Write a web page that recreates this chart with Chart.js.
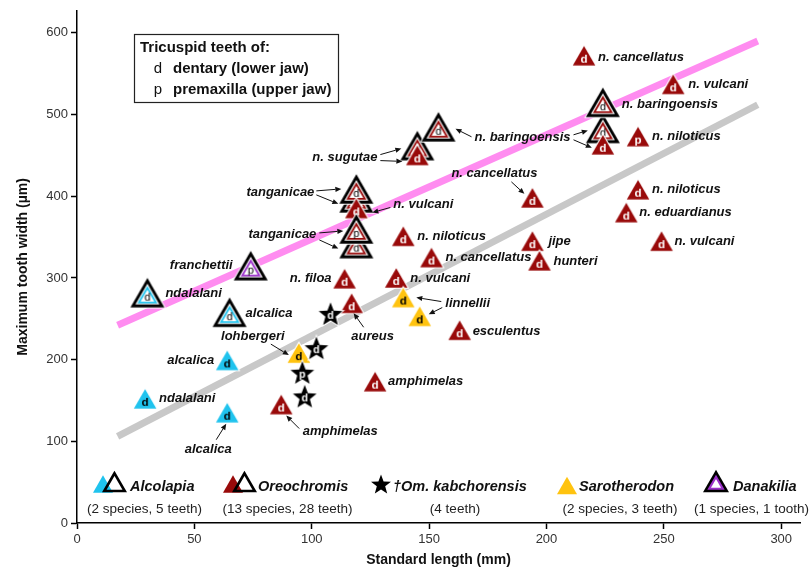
<!DOCTYPE html>
<html>
<head>
<meta charset="utf-8">
<script src="https://cdn.jsdelivr.net/npm/chart.js@4.4.1/dist/chart.umd.min.js"></script>
<style>
  html, body { margin: 0; padding: 0; background: #fff; }
  #wrap { width: 810px; height: 575px; }
</style>
</head>
<body>
<div id="wrap"><canvas id="c" width="810" height="575"></canvas></div>
<script>
// ---- Data: standard length (mm), maximum tooth width (µm), jaw (d = dentary, p = premaxilla)
const alcolapiaSL      = [30, 65, 64, 29, 64];
const alcolapiaWidth   = [282, 258, 199, 152, 135];
const alcolapiaJaw     = ['d', 'd', 'd', 'd', 'd'];
const alcolapiaFramed  = [true, true, false, false, false];
const alcolapiaSpecies = ['ndalalani', 'alcalica', 'alcalica', 'ndalalani', 'alcalica'];

const oreochromisSL = [216, 254, 224, 224, 224, 239, 194, 239, 234, 249, 194, 197, 139, 151,
                       136, 114, 117, 163, 127, 87, 145, 145, 154, 119, 119, 119, 119, 119];
const oreochromisWidth = [572, 537, 483, 515, 463, 473, 398, 408, 380, 345, 345, 321, 351, 325,
                          300, 299, 269, 236, 173, 145, 462, 450, 485, 398, 409, 385, 342, 360];
const oreochromisJaw = ['d', 'd', 'd', 'd', 'd', 'p', 'd', 'd', 'd', 'd', 'd', 'd', 'd', 'd',
                        'd', 'd', 'd', 'd', 'd', 'd', 'd', 'd', 'd', 'p', 'd', 'd', 'd', 'p'];
const oreochromisFramed = [false, false, true, true, false, false, false, false, false, false, false, false, false, false,
                           false, false, false, false, false, false, true, false, true, true, true, false, true, true];
const oreochromisSpecies = ['n. cancellatus', 'n. vulcani', 'n. baringoensis', 'n. baringoensis', 'n. baringoensis',
                            'n. niloticus', 'n. cancellatus', 'n. niloticus', 'n. eduardianus', 'n. vulcani', 'jipe',
                            'hunteri', 'n. niloticus', 'n. cancellatus', 'n. vulcani', 'n. filoa', 'aureus', 'esculentus',
                            'amphimelas', 'amphimelas', 'n. sugutae', 'n. sugutae', 'n. baringoensis', 'tanganicae',
                            'tanganicae', 'n. vulcani', 'tanganicae', 'tanganicae'];

const kabchorensisSL    = [108, 102, 96, 97];
const kabchorensisWidth = [256, 214, 184, 155];
const kabchorensisJaw   = ['d', 'd', 'p', 'd'];

const sarotherodonSL      = [94.5, 139, 146];
const sarotherodonWidth   = [208, 276, 253];
const sarotherodonJaw     = ['d', 'd', 'd'];
const sarotherodonSpecies = ['lohbergeri', 'linnellii', 'linnellii'];

const danakiliaSL      = [74];
const danakiliaWidth   = [315];
const danakiliaJaw     = ['p'];
const danakiliaSpecies = ['franchettii'];

// trend lines (start and end)
const upperLineSL    = [17.3, 290];
const upperLineWidth = [242, 590];
const lowerLineSL    = [17.3, 290];
const lowerLineWidth = [106, 512];

const xTicks = [0, 50, 100, 150, 200, 250, 300];
const yTicks = [0, 100, 200, 300, 400, 500, 600];

// ---- Styling
const FONT = '"Liberation Sans", Arial, Helvetica, sans-serif';
const CYAN = '#1fc3ee', RED = '#990a0a', YELLOW = '#ffc30f', PURPLE = '#9b30c9';
const PINK = '#ff8cf0', GREY = '#c8c8c8';

function triPath(g, cx, cy, rin) { // equilateral triangle by centroid and inradius
  const R = 2 * rin, h = Math.sqrt(3) * rin;
  g.beginPath();
  g.moveTo(cx, cy - R);
  g.lineTo(cx - h, cy + rin);
  g.lineTo(cx + h, cy + rin);
  g.closePath();
}

function drawFramed(g, cx, cy, rin, color, halo) {
  const layers = [[rin, '#000'], [rin - 2.9, '#fff'], [rin - 4.0, color], [rin - 5.8, '#fff']];
  if (halo) layers.unshift([rin + 1, '#fff']);
  layers.forEach(([r, col]) => { triPath(g, cx, cy, r); g.fillStyle = col; g.fill(); });
}

function makeTriangle(color, letter, letterColor, framed) {
  const c = document.createElement('canvas');
  const W = framed ? 42 : 30, H = framed ? 38 : 28;
  c.width = W; c.height = H;
  const g = c.getContext('2d');
  const rin = (framed ? 34 : 22.5) / (2 * Math.sqrt(3));
  const cx = W / 2, cy = H / 2 + rin / 2;
  if (framed) {
    drawFramed(g, cx, cy, rin, color, true);
    g.fillStyle = '#000';
    g.font = '11px ' + FONT;
  } else {
    triPath(g, cx, cy, rin + 1.1); g.fillStyle = '#fff'; g.fill();
    triPath(g, cx, cy, rin); g.fillStyle = color; g.fill();
    g.fillStyle = letterColor;
    g.font = 'bold 11.5px ' + FONT;
  }
  g.textAlign = 'center';
  g.textBaseline = 'middle';
  g.fillText(letter, cx, cy + 0.5);
  return c;
}

function starPath(g, cx, cy, R, r) {
  g.beginPath();
  for (let k = 0; k < 10; k++) {
    const a = -Math.PI / 2 + k * Math.PI / 5, rr = k % 2 ? r : R;
    g.lineTo(cx + rr * Math.cos(a), cy + rr * Math.sin(a));
  }
  g.closePath();
}

function makeStar(letter) {
  const c = document.createElement('canvas');
  c.width = 30; c.height = 30;
  const g = c.getContext('2d');
  starPath(g, 15, 16, 12.5, 5.4);
  g.lineWidth = 2; g.strokeStyle = '#fff'; g.stroke();
  g.fillStyle = '#000'; g.fill();
  g.fillStyle = '#fff'; g.font = 'bold 10.5px ' + FONT;
  g.textAlign = 'center'; g.textBaseline = 'middle';
  g.fillText(letter, 15, 17);
  return c;
}

const G = {
  A: { sl: alcolapiaSL, w: alcolapiaWidth, jaw: alcolapiaJaw, framed: alcolapiaFramed, species: alcolapiaSpecies, color: CYAN, ink: '#000' },
  O: { sl: oreochromisSL, w: oreochromisWidth, jaw: oreochromisJaw, framed: oreochromisFramed, species: oreochromisSpecies, color: RED, ink: '#fff' },
  K: { sl: kabchorensisSL, w: kabchorensisWidth, jaw: kabchorensisJaw, star: true },
  S: { sl: sarotherodonSL, w: sarotherodonWidth, jaw: sarotherodonJaw, species: sarotherodonSpecies, color: YELLOW, ink: '#000' },
  D: { sl: danakiliaSL, w: danakiliaWidth, jaw: danakiliaJaw, framed: [true], species: danakiliaSpecies, color: PURPLE, ink: '#fff' }
};

function markersFor(grp) {
  return grp.jaw.map((j, i) => grp.star ? makeStar(j)
    : makeTriangle(grp.color, j, grp.ink, grp.framed ? grp.framed[i] : false));
}

const pts = (xs, ys) => xs.map((v, i) => ({ x: v, y: ys[i] }));

const datasets = [];
[['K', 0], ['S', 1], ['A', 2], ['D', 3], ['O', 4]].forEach(([k, ord]) => {
  const grp = G[k];
  const icons = markersFor(grp);
  datasets.push({
    label: k,
    data: pts(grp.sl, grp.w),
    pointStyle: ctx => icons[ctx.dataIndex],
    pointRadius: 10,
    pointBorderWidth: 0,
    order: ord
  });
});
datasets.push({
  type: 'line', data: pts(upperLineSL, upperLineWidth), showLine: true,
  borderColor: PINK, borderWidth: 7, pointRadius: 0, borderCapStyle: 'butt', order: 20
});
datasets.push({
  type: 'line', data: pts(lowerLineSL, lowerLineWidth), showLine: true,
  borderColor: GREY, borderWidth: 7, pointRadius: 0, borderCapStyle: 'butt', order: 21
});

// ---- Species labels: offsets (px) from the anchor point, optional arrows to points
const callouts = [
  { g: 'O', i: 0, dx: 14, dy: 2, align: 'left' },
  { g: 'O', i: 1, dx: 15, dy: 0, align: 'left' },
  { g: 'O', i: 3, dx: 19, dy: 2, align: 'left' },
  { g: 'O', i: 22, dx: 84, dy: 11, align: 'center', arrows: [
      { fx: 33, fy: 10, g: 'O', i: 22, tx: 17, ty: 2 },
      { fx: 135, fy: 8, g: 'O', i: 2, tx: -15, ty: 2 },
      { fx: 135, fy: 13, g: 'O', i: 4, tx: -11, ty: 3 }] },
  { g: 'O', i: 5, dx: 14, dy: 0, align: 'left' },
  { g: 'O', i: 6, dx: -38, dy: -24, align: 'center', arrows: [{ fx: -21, fy: -16, g: 'O', i: 6, tx: -8, ty: -4 }] },
  { g: 'O', i: 7, dx: 14, dy: 0, align: 'left' },
  { g: 'O', i: 8, dx: 13, dy: 0, align: 'left' },
  { g: 'O', i: 9, dx: 13, dy: 0, align: 'left' },
  { g: 'O', i: 10, dx: 16, dy: 0, align: 'left' },
  { g: 'O', i: 11, dx: 14, dy: 1, align: 'left' },
  { g: 'O', i: 12, dx: 14, dy: 0, align: 'left' },
  { g: 'O', i: 13, dx: 14, dy: 0, align: 'left' },
  { g: 'O', i: 14, dx: 14, dy: 0, align: 'left' },
  { g: 'O', i: 15, dx: -13, dy: 0, align: 'right' },
  { g: 'O', i: 16, dx: 21, dy: 33, align: 'center', arrows: [{ fx: 12, fy: 24, g: 'O', i: 16, tx: 2, ty: 10 }] },
  { g: 'O', i: 17, dx: 13, dy: 1, align: 'left' },
  { g: 'O', i: 18, dx: 13, dy: 0, align: 'left' },
  { g: 'O', i: 19, dx: 59, dy: 27, align: 'center', arrows: [{ fx: 18, fy: 24, g: 'O', i: 19, tx: 5, ty: 11 }] },
  { g: 'O', i: 20, dx: -40, dy: 12, align: 'right', arrows: [
      { fx: -37, fy: 9, g: 'O', i: 20, tx: -16, ty: 3 },
      { fx: -37, fy: 15, g: 'O', i: 21, tx: -15, ty: 6 }] },
  { g: 'O', i: 24, dx: -42, dy: 4, align: 'right', arrows: [
      { fx: -40, fy: 2, g: 'O', i: 24, tx: -15, ty: 0 },
      { fx: -40, fy: 6, g: 'O', i: 23, tx: -18, ty: 6 }] },
  { g: 'O', i: 25, dx: 37, dy: -4, align: 'left', arrows: [{ fx: 34, fy: -1, g: 'O', i: 25, tx: 16, ty: 4 }] },
  { g: 'O', i: 27, dx: -40, dy: 6, align: 'right', arrows: [
      { fx: -37, fy: 4, g: 'O', i: 27, tx: -13, ty: 2 },
      { fx: -37, fy: 11, g: 'O', i: 26, tx: -18, ty: 5 }] },
  { g: 'A', i: 0, dx: 18, dy: 1, align: 'left' },
  { g: 'A', i: 1, dx: 16, dy: 1, align: 'left' },
  { g: 'A', i: 2, dx: -13, dy: 0, align: 'right' },
  { g: 'A', i: 3, dx: 14, dy: 0, align: 'left' },
  { g: 'A', i: 4, dx: -19, dy: 37, align: 'center', arrows: [{ fx: -11, fy: 27, g: 'A', i: 4, tx: -1, ty: 11 }] },
  { g: 'D', i: 0, dx: -18, dy: 0, align: 'right' },
  { g: 'S', i: 0, dx: -46, dy: -17, align: 'center', arrows: [{ fx: -28, fy: -9, g: 'S', i: 0, tx: -10, ty: 2 }] },
  { g: 'S', i: 1, dx: 42, dy: 6, align: 'left', arrows: [
      { fx: 38, fy: 4, g: 'S', i: 1, tx: 13, ty: 0 },
      { fx: 39, fy: 10, g: 'S', i: 2, tx: 9, ty: -2 }] }
];

// genus key entries along the bottom
const genusKey = [
  { name: 'Alcolapia', note: '(2 species, 5 teeth)', color: CYAN, icon: 'pair' },
  { name: 'Oreochromis', note: '(13 species, 28 teeth)', color: RED, icon: 'pair' },
  { name: '\u2020Om. kabchorensis', note: '(4 teeth)', icon: 'star' },
  { name: 'Sarotherodon', note: '(2 species, 3 teeth)', color: YELLOW, icon: 'solid' },
  { name: 'Danakilia', note: '(1 species, 1 tooth)', color: PURPLE, icon: 'framed' }
];
const keyIconX = [103, 233, 381, 567, 716];
const keyTextX = [130, 258, 393, 579, 733];
const keyNoteX = [144.5, 287.5, 455, 620, 751.5];

function drawArrow(g, x1, y1, x2, y2) {
  const a = Math.atan2(y2 - y1, x2 - x1), L = 6, W = 2.6;
  const bx = x2 - L * Math.cos(a), by = y2 - L * Math.sin(a);
  g.beginPath(); g.moveTo(x1, y1); g.lineTo(bx, by);
  g.lineWidth = 1; g.strokeStyle = '#111'; g.stroke();
  g.beginPath(); g.moveTo(x2, y2);
  g.lineTo(bx - W * Math.sin(a), by + W * Math.cos(a));
  g.lineTo(bx + W * Math.sin(a), by - W * Math.cos(a));
  g.closePath(); g.fillStyle = '#111'; g.fill();
}

function solidTri(g, cx, cyBox, side, color) {
  const rin = side / (2 * Math.sqrt(3));
  triPath(g, cx, cyBox + rin / 2, rin); g.fillStyle = color; g.fill();
}

const overlay = {
  id: 'overlay',
  afterDatasetsDraw(chart) {
    const { ctx: g, scales: { x, y } } = chart;
    const px = (k, i) => [x.getPixelForValue(G[k].sl[i]), y.getPixelForValue(G[k].w[i])];
    g.save();

    // species labels and arrows
    callouts.forEach(c => {
      const [ax, ay] = px(c.g, c.i);
      g.font = 'italic bold 13px ' + FONT;
      g.fillStyle = '#111';
      g.textBaseline = 'middle';
      g.textAlign = c.align;
      g.fillText(G[c.g].species[c.i], ax + c.dx, ay + c.dy);
      (c.arrows || []).forEach(a => {
        const [tx, ty] = px(a.g, a.i);
        drawArrow(g, ax + a.fx, ay + a.fy, tx + a.tx, ty + a.ty);
      });
    });

    // jaw key box
    g.lineWidth = 1.2; g.strokeStyle = '#222';
    g.strokeRect(134.5, 34.5, 204, 68);
    g.textAlign = 'left'; g.textBaseline = 'middle'; g.fillStyle = '#111';
    g.font = 'bold 15px ' + FONT;
    g.fillText('Tricuspid teeth of:', 140, 48);
    g.font = '15px ' + FONT; g.textAlign = 'center';
    g.fillText('d', 158, 69);
    g.fillText('p', 158, 90);
    g.font = 'bold 15px ' + FONT; g.textAlign = 'left';
    g.fillText('dentary (lower jaw)', 173, 69);
    g.fillText('premaxilla (upper jaw)', 173, 90);

    // genus key
    const rowY = 486.5, noteY = 509;
    genusKey.forEach((k, n) => {
      const ix = keyIconX[n];
      if (k.icon === 'pair') {
        solidTri(g, ix, 484, 20, k.color);
        const rin = 25 / (2 * Math.sqrt(3));
        const cx = ix + 11.5, cy = 481.5 + rin / 2;
        triPath(g, cx, cy, rin - 1.3); g.lineWidth = 2.6; g.strokeStyle = '#000'; g.stroke();
        triPath(g, cx, cy, rin - 4.6); g.fillStyle = '#fff'; g.fill();
      } else if (k.icon === 'star') {
        starPath(g, ix, 485, 10.5, 4.4); g.fillStyle = '#000'; g.fill();
      } else if (k.icon === 'solid') {
        solidTri(g, ix, 485.5, 20, k.color);
      } else {
        const rin = 26 / (2 * Math.sqrt(3));
        const cy = 481 + rin / 2;
        triPath(g, ix, cy, rin); g.fillStyle = '#000'; g.fill();
        triPath(g, ix, cy, rin - 2.5); g.fillStyle = k.color; g.fill();
        triPath(g, ix, cy, rin - 4.6); g.fillStyle = '#fff'; g.fill();
      }
      g.fillStyle = '#111'; g.textBaseline = 'middle';
      g.font = 'italic bold 14.5px ' + FONT; g.textAlign = 'left';
      g.fillText(k.name, keyTextX[n], rowY);
      g.font = '13.5px ' + FONT; g.textAlign = 'center'; g.fillStyle = '#222';
      g.fillText(k.note, keyNoteX[n], noteY);
    });
    g.restore();
  }
};

new Chart(document.getElementById('c'), {
  type: 'scatter',
  data: { datasets },
  options: {
    responsive: false,
    animation: false,
    devicePixelRatio: 1,
    layout: { padding: { top: 8, right: 2, left: 0, bottom: 0 } },
    plugins: { legend: { display: false }, tooltip: { enabled: false } },
    scales: {
      x: {
        type: 'linear', min: 0, max: 308,
        afterFit(s) { s.height = 52; },
        afterBuildTicks(s) { s.ticks = xTicks.map(v => ({ value: v })); },
        ticks: { font: { family: FONT, size: 13 }, color: '#333', padding: 3, maxRotation: 0 },
        grid: { drawOnChartArea: false, drawTicks: true, tickLength: 6, tickColor: '#000', tickWidth: 1.5 },
        border: { display: true, color: '#000', width: 1.5 },
        title: { display: true, text: 'Standard length (mm)', color: '#111',
                 font: { family: FONT, size: 14, weight: 'bold' }, padding: { top: 0, bottom: 6 } }
      },
      y: {
        type: 'linear', min: 0, max: 627,
        afterFit(s) { s.width = 77; },
        afterBuildTicks(s) { s.ticks = yTicks.map(v => ({ value: v })); },
        ticks: { font: { family: FONT, size: 13 }, color: '#333', padding: 3 },
        grid: { drawOnChartArea: false, drawTicks: true, tickLength: 6, tickColor: '#000', tickWidth: 1.5 },
        border: { display: true, color: '#000', width: 1.5 },
        title: { display: true, text: 'Maximum tooth width (\u00b5m)', color: '#111',
                 font: { family: FONT, size: 14, weight: 'bold' }, padding: { top: 15, bottom: 0 } }
      }
    }
  },
  plugins: [overlay]
});
</script>
</body>
</html>
